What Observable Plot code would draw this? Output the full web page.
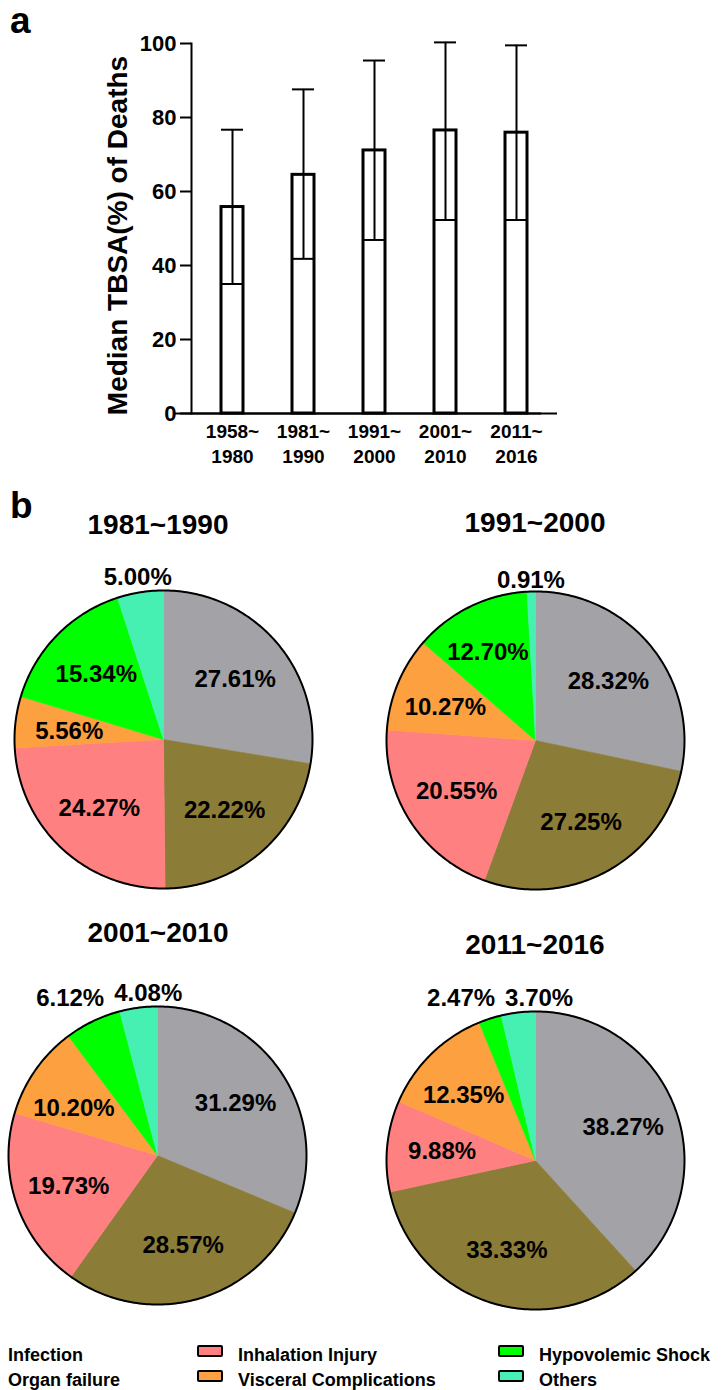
<!DOCTYPE html>
<html><head><meta charset="utf-8">
<script src="https://cdn.jsdelivr.net/npm/d3@7"></script>
<script src="https://cdn.jsdelivr.net/npm/@observablehq/plot@0.6"></script>
<style>
html,body{margin:0;padding:0;background:#fff;}
#fig{position:relative;width:724px;height:1390px;overflow:hidden;font-family:"Liberation Sans",Arial,Helvetica,sans-serif;font-weight:bold;color:#000;background:#fff;}
#fig svg{overflow:visible;}
.abs{position:absolute;}
.lbl{position:absolute;white-space:nowrap;line-height:1;}
.sw{position:absolute;box-sizing:border-box;border:2px solid #000;border-radius:2px;}
</style></head><body><div id="fig"></div>
<script>
// ---------- data ----------
const periods = ["1958~1980", "1981~1990", "1991~2000", "2001~2010", "2011~2016"];
const medianTBSA = [55.8, 64.5, 71.1, 76.5, 75.9];
const lowerTBSA = [35.0, 41.8, 46.9, 52.3, 52.3];
const upperTBSA = [76.7, 87.6, 95.4, 100.3, 99.5];
const yTicks = [0, 20, 40, 60, 80, 100];
const yTitle = "Median TBSA(%) of Deaths";

const causes = ["Infection", "Organ failure", "Inhalation Injury", "Visceral Complications", "Hypovolemic Shock", "Others"];
const causeColors = ["#a3a2a7", "#8b7d37", "#ff8080", "#fda040", "#00ff00", "#45f0b2"];
const pieTitles = ["1981~1990", "1991~2000", "2001~2010", "2011~2016"];
const share1981 = [27.61, 22.22, 24.27, 5.56, 15.34, 5.00];
const share1991 = [28.32, 27.25, 20.55, 10.27, 12.70, 0.91];
const share2001 = [31.29, 28.57, 19.73, 10.20, 6.12, 4.08];
const share2011 = [38.27, 33.33, 9.88, 12.35, 2.47, 3.70];

// ---------- layout ----------
const FONT = '"Liberation Sans", Arial, Helvetica, sans-serif';
const fig = document.getElementById("fig");
function place(node, left, top) {
  const d = document.createElement("div");
  d.className = "abs"; d.style.left = left + "px"; d.style.top = top + "px";
  d.appendChild(node); fig.appendChild(d); return d;
}
function label(text, left, baseline, size, opts = {}) {
  const d = document.createElement("div");
  d.className = "lbl"; d.textContent = text;
  d.style.fontSize = size + "px";
  d.style.top = (baseline - 0.8465 * size) + "px";
  if (opts.center != null) { d.style.left = (opts.center - 200) + "px"; d.style.width = "400px"; d.style.textAlign = "center"; }
  else d.style.left = left + "px";
  fig.appendChild(d); return d;
}

// ---------- panel a: bar chart ----------
const barData = periods.map((p, i) => ({period: p, median: medianTBSA[i], lower: lowerTBSA[i], upper: upperTBSA[i]}));
const bar = Plot.plot({
  width: 724, height: 480,
  marginTop: 43, marginBottom: 67, marginLeft: 191, marginRight: 167,
  style: {fontFamily: FONT, fontWeight: "bold", fontSize: "22px", background: "transparent", color: "black"},
  x: {domain: periods, paddingInner: 0.692, paddingOuter: 0.409, axis: null},
  y: {domain: [0, 100], axis: null},
  marks: [
    Plot.ruleY([0], {stroke: "black", strokeWidth: 2}),
    Plot.ruleY([0], {stroke: "black", strokeWidth: 2, dx: -16}),
    Plot.frame({anchor: "left", stroke: "black", strokeWidth: 2}),
    Plot.axisY({ticks: yTicks, tickSize: 11, tickPadding: 4, fontSize: 22, fontWeight: "bold", strokeWidth: 2, label: null}),
    Plot.barY(barData, {x: "period", y: "median", fill: "white", stroke: "black", strokeWidth: 3}),
    Plot.tickY(barData, {x: "period", y: "lower", stroke: "black", strokeWidth: 2}),
    Plot.ruleX(barData, {x: "period", y1: "lower", y2: "upper", stroke: "black", strokeWidth: 2}),
    Plot.tickY(barData, {x: "period", y: "upper", stroke: "black", strokeWidth: 2}),
    Plot.text(periods, {x: d => d, text: d => d.replace("~", "~\n"), frameAnchor: "bottom", lineAnchor: "top",
      dy: 7, fontSize: 19, fontWeight: "bold", lineHeight: 1.316, fill: "black"}),
    Plot.text([yTitle], {text: d => d, frameAnchor: "left", textAnchor: "middle", lineAnchor: "middle", rotate: -90,
      dx: -73, dy: 7, fontSize: 28, fontWeight: "bold", fill: "black"})
  ]
});
place(bar, 0, 0);
label("a", 10, 33, 37);
label("b", 10, 518, 37);

// ---------- panel b: pies ----------
const canvas = document.createElement("canvas");
const ctx = canvas.getContext("2d");
const LABEL_FS = 24;
ctx.font = `bold ${LABEL_FS}px ${FONT}`;
const TAU = Math.PI * 2;
const angOf = (x, y) => (Math.atan2(x, y) + TAU) % TAU; // clockwise from 12 o'clock, y up

function pieChart(shares, rPx, cxL, cyL) {
  const arcs = d3.pie().sort(null).value(d => d).startAngle(0).endAngle(TAU)(shares);
  const slicePts = [];
  arcs.forEach((a, i) => {
    const cause = causes[i];
    slicePts.push({x: 0, y: 0, cause});
    const n = Math.max(2, Math.ceil((a.endAngle - a.startAngle) / (Math.PI / 180)));
    for (let k = 0; k <= n; k++) {
      const t = a.startAngle + (a.endAngle - a.startAngle) * k / n;
      slicePts.push({x: Math.sin(t), y: Math.cos(t), cause});
    }
    slicePts.push({x: 0, y: 0, cause});
  });
  const ring = d3.range(0, 361).map(deg => ({x: Math.sin(deg * Math.PI / 180), y: Math.cos(deg * Math.PI / 180)}));

  // label placement
  const H = 0.72 * LABEL_FS / rPx;
  const labels = [];
  const outside = [];
  arcs.forEach((a, i) => {
    const text = shares[i].toFixed(2) + "%";
    const W = ctx.measureText(text).width / rPx;
    const a0 = a.startAngle, a1 = a.endAngle, am = (a0 + a1) / 2;
    const d0 = 0.63;
    const px0 = d0 * Math.sin(am), py0 = d0 * Math.cos(am);
    const eps = 0.012;
    let best = null, bestCost = Infinity;
    for (let t = a0; t <= a1; t += Math.PI / 720) {
      for (let d = 0.3; d <= 0.95; d += 0.005) {
        const cx = d * Math.sin(t), cy = d * Math.cos(t);
        let ok = true;
        for (const [sx, sy] of [[-1, -1], [-1, 1], [1, -1], [1, 1]]) {
          const x = cx + sx * W / 2, y = cy + sy * H / 2;
          const rr = Math.hypot(x, y), g = angOf(x, y);
          if (rr > 0.965 || g < a0 + eps || g > a1 - eps) { ok = false; break; }
        }
        if (ok) {
          const c = (cx - px0) ** 2 + (cy - py0) ** 2;
          if (c < bestCost) { bestCost = c; best = {x: cx, y: cy}; }
        }
      }
    }
    if (best) labels.push({x: best.x, y: best.y, text});
    else {
      let d = 1;
      for (; d < 2; d += 0.005) {
        const cx = d * Math.sin(am), cy = d * Math.cos(am);
        let ok = true;
        for (const [sx, sy] of [[-1, -1], [-1, 1], [1, -1], [1, 1]]) {
          if (Math.hypot(cx + sx * W / 2, cy + sy * H / 2) < 1 + 5 / rPx) { ok = false; break; }
        }
        if (ok) break;
      }
      const o = {x: d * Math.sin(am), y: d * Math.cos(am), text, W};
      outside.push(o); labels.push(o);
    }
  });
  const gap = 10 / rPx;
  for (let it = 0; it < 30; it++) {
    outside.sort((p, q) => p.x - q.x);
    for (let k = 0; k + 1 < outside.length; k++) {
      const p = outside[k], q = outside[k + 1];
      const need = (p.W + q.W) / 2 + gap;
      if (Math.abs(p.y - q.y) < H + gap && q.x - p.x < need) {
        const push = (need - (q.x - p.x)) / 2;
        p.x -= push; q.x += push;
      }
    }
  }

  return Plot.plot({
    width: 362, height: 360, margin: 0,
    style: {fontFamily: FONT, background: "transparent", overflow: "visible"},
    x: {domain: [-1, 1], range: [cxL - rPx, cxL + rPx], axis: null},
    y: {domain: [-1, 1], range: [cyL + rPx, cyL - rPx], axis: null},
    color: {domain: causes, range: causeColors},
    marks: [
      Plot.line(slicePts, {x: "x", y: "y", z: "cause", fill: "cause", stroke: "cause", strokeWidth: 0.6, curve: "linear"}),
      Plot.line(ring, {x: "x", y: "y", stroke: "black", strokeWidth: 2}),
      Plot.text(labels, {x: "x", y: "y", text: "text", fontSize: LABEL_FS, fontWeight: "bold", fill: "black",
        textAnchor: "middle", lineAnchor: "middle"})
    ]
  });
}

const pieShares = [share1981, share1991, share2001, share2011];
const pieLayout = [
  {left: 0, top: 559, cx: 163, titleX: 158, titleBase: 535},
  {left: 362, top: 560, cx: 173, titleX: 535, titleBase: 533},
  {left: 0, top: 975, cx: 157, titleX: 158, titleBase: 943},
  {left: 362, top: 980, cx: 173, titleX: 535, titleBase: 955}
];
pieShares.forEach((s, i) => {
  const L = pieLayout[i];
  place(pieChart(s, 149, L.cx, 180), L.left, L.top);
  label(pieTitles[i], 0, L.titleBase, 28, {center: L.titleX});
});

// ---------- legend ----------
const legendCols = [8, 197, 498];
const legendBase = [1361.5, 1386.5];
causes.forEach((c, i) => {
  const col = Math.floor(i / 2), row = i % 2;
  const x0 = legendCols[col];
  if (col === 0) {
    label(c, x0, legendBase[row], 18);
  } else {
    const sw = document.createElement("div");
    sw.className = "sw";
    sw.style.left = x0 + "px"; sw.style.top = (legendBase[row] - 16.5) + "px";
    sw.style.width = "26px"; sw.style.height = "12px";
    sw.style.background = causeColors[i];
    fig.appendChild(sw);
    label(c, x0 + 41, legendBase[row], 18);
  }
});
</script></body></html>
